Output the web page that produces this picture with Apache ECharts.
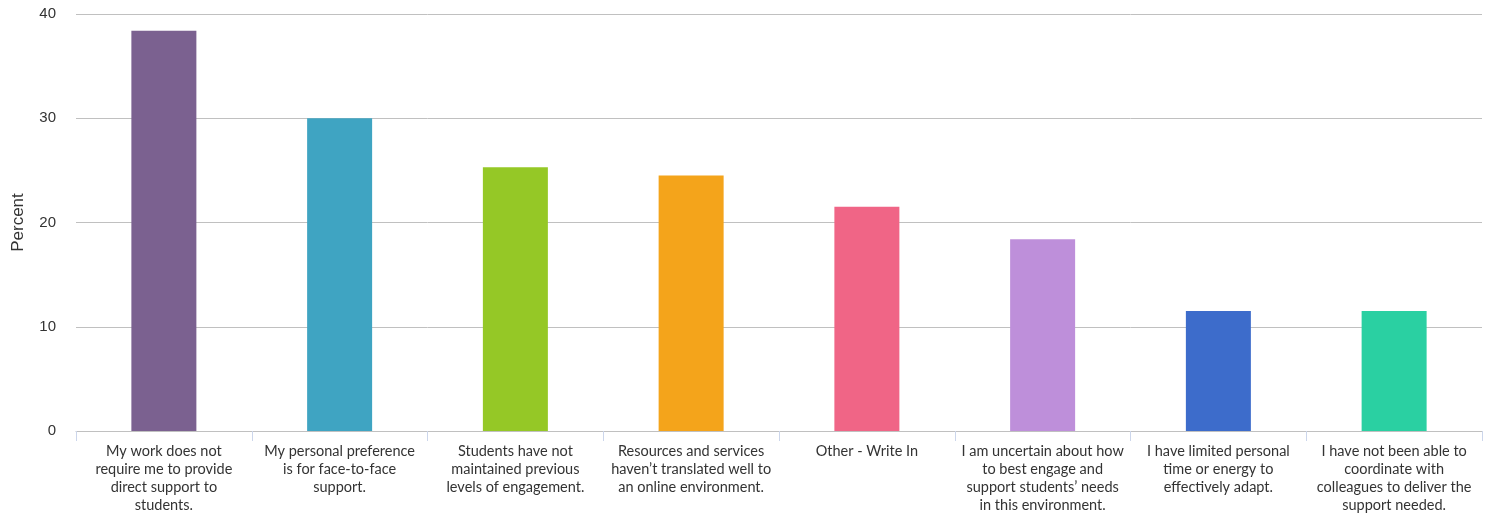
<!DOCTYPE html>
<html>
<head>
<meta charset="utf-8">
<script src="https://cdn.jsdelivr.net/npm/echarts@6/dist/echarts.min.js"></script>
<style>
html,body{margin:0;padding:0;background:#fff;}
#chart{width:1489px;height:515px;}
</style>
</head>
<body>
<div id="chart"></div>
<script>
const categories = [
  "My work does not\nrequire me to provide\ndirect support to\nstudents.",
  "My personal preference\nis for face-to-face\nsupport.",
  "Students have not\nmaintained previous\nlevels of engagement.",
  "Resources and services\nhaven\u2019t translated well to\nan online environment.",
  "Other - Write In",
  "I am uncertain about how\nto best engage and\nsupport students\u2019 needs\nin this environment.",
  "I have limited personal\ntime or energy to\neffectively adapt.",
  "I have not been able to\ncoordinate with\ncolleagues to deliver the\nsupport needed."
];
const values = [38.4, 30.0, 25.3, 24.5, 21.5, 18.4, 11.5, 11.5];
const colors = ["#7b6190", "#3fa4c2", "#95c826", "#f4a41b", "#f06586", "#be8fda", "#3d6ccb", "#2ad0a2"];
const yTicks = [0, 10, 20, 30, 40];
const yTitle = "Percent";

const chart = echarts.init(document.getElementById('chart'));
chart.setOption({
  animation: false,
  grid: {left: 76, right: 7, top: 14, bottom: 84, containLabel: false, outerBoundsMode: 'none'},
  xAxis: {
    type: 'category',
    data: categories,
    axisLine: {lineStyle: {color: '#c0c0c0', width: 1}},
    axisTick: {show: true, length: 10, lineStyle: {color: '#ccd6eb'}, alignWithLabel: false},
    axisLabel: {
      interval: 0,
      margin: 11,
      fontFamily: 'Lato',
      fontSize: 14.5,
      lineHeight: 18,
      color: '#333333',
      align: 'center'
    }
  },
  yAxis: {
    type: 'value',
    min: yTicks[0],
    max: yTicks[yTicks.length - 1],
    interval: 10,
    name: yTitle,
    nameLocation: 'middle',
    nameGap: 49,
    nameRotate: 90,
    nameMoveOverlap: false,
    nameTextStyle: {fontFamily: 'Liberation Sans', fontSize: 17, color: '#333333'},
    axisLine: {show: false},
    axisTick: {show: false},
    axisLabel: {margin: 20, fontFamily: 'Liberation Sans', fontSize: 15, color: '#333333'},
    splitLine: {lineStyle: {color: '#c0c0c0', width: 1}}
  },
  series: [{
    type: 'bar',
    data: values.map((v, i) => ({value: v, itemStyle: {color: colors[i]}})),
    barWidth: 65
  }]
});
</script>
</body>
</html>
